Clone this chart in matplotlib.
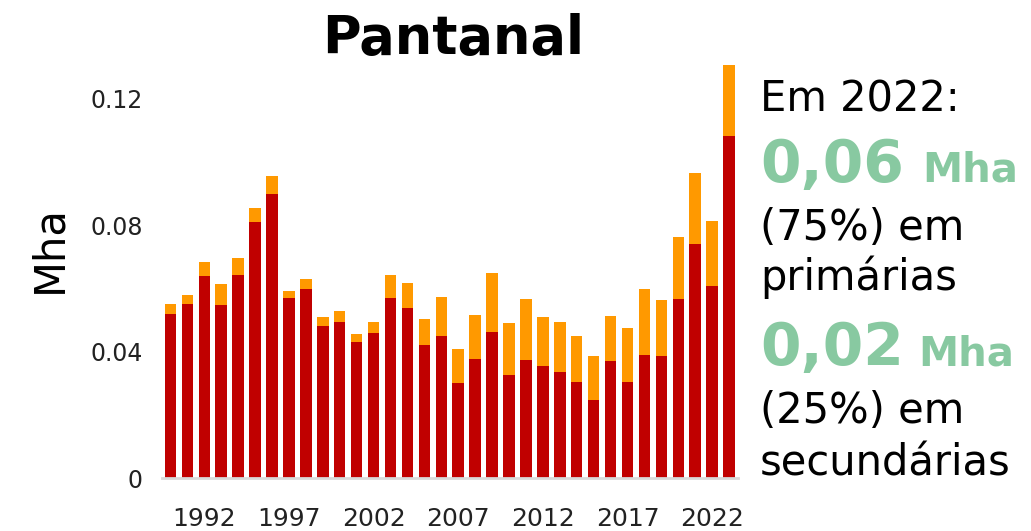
import matplotlib
matplotlib.use('Agg')
import matplotlib.pyplot as plt
import numpy as np

# --- data (Mha) ---
years = list(range(1990, 2024))
primarias = [0.0520, 0.0550, 0.0639, 0.0547, 0.0643, 0.0808, 0.0897, 0.0569, 0.0597, 0.0481,
             0.0493, 0.0431, 0.0457, 0.0569, 0.0539, 0.0420, 0.0450, 0.0300, 0.0377, 0.0462,
             0.0327, 0.0373, 0.0354, 0.0334, 0.0304, 0.0246, 0.0369, 0.0304, 0.0389, 0.0385,
             0.0566, 0.0740, 0.0608, 0.1082]
totais = [0.0550, 0.0578, 0.0682, 0.0612, 0.0697, 0.0855, 0.0954, 0.0592, 0.0630, 0.0508,
          0.0527, 0.0454, 0.0493, 0.0643, 0.0616, 0.0504, 0.0573, 0.0408, 0.0515, 0.0647,
          0.0489, 0.0566, 0.0508, 0.0493, 0.0450, 0.0385, 0.0512, 0.0473, 0.0598, 0.0562,
          0.0762, 0.0963, 0.0813, 0.1306]
secundarias = [t - p for t, p in zip(totais, primarias)]

tick_years = [1992, 1997, 2002, 2007, 2012, 2017, 2022]
y_ticks = [0, 0.04, 0.08, 0.12]
y_tick_labels = ['0', '0.04', '0.08', '0.12']

red = '#C00000'
orange = '#FF9900'
green = '#88C9A1'

W, H = 1031, 531
fig = plt.figure(figsize=(W / 100, H / 100), dpi=100)
ax = fig.add_axes([162 / W, 1 - 478 / H, 575.5 / W, 442.7 / H])

x = np.arange(len(years))
ax.bar(x, primarias, width=0.68, color=red, zorder=2)
ax.bar(x, secundarias, width=0.68, bottom=primarias, color=orange, zorder=2)

ax.set_xlim(-0.5, len(years) - 0.5)
ax.set_ylim(0, 0.14)
ax.set_xticks([years.index(y) for y in tick_years])
ax.set_xticklabels([str(y) for y in tick_years], fontsize=18, color='#222222')
ax.set_yticks(y_ticks)
ax.set_yticklabels(y_tick_labels, fontsize=17, color='#222222')
ax.tick_params(axis='x', length=0, pad=21)
ax.tick_params(axis='y', length=0, pad=14)
for s in ['top', 'right', 'left']:
    ax.spines[s].set_visible(False)
ax.spines['bottom'].set_color('#D9D9D9')
ax.spines['bottom'].set_linewidth(2)

# title and y label
fig.text(453 / W, 1 - 54 / H, 'Pantanal', fontsize=38, fontweight='bold',
         ha='center', va='baseline')
fig.text(49 / W, 1 - 249 / H, 'Mha', fontsize=30, rotation=90, ha='center', va='center')

# side annotation
xl = 760 / W
fig.text(xl, 1 - 112 / H, 'Em 2022:', fontsize=30, va='baseline')
t = fig.text(xl, 1 - 182 / H, '0,06', fontsize=42, fontweight='bold', color=green, va='baseline')
fig.text(922 / W, 1 - 182 / H, 'Mha', fontsize=29, fontweight='bold', color=green, va='baseline')
fig.text(xl, 1 - 240 / H, '(75%) em', fontsize=30, va='baseline')
fig.text(xl, 1 - 290 / H, 'primárias', fontsize=30, va='baseline')
fig.text(xl, 1 - 365 / H, '0,02', fontsize=42, fontweight='bold', color=green, va='baseline')
fig.text(918 / W, 1 - 365 / H, 'Mha', fontsize=29, fontweight='bold', color=green, va='baseline')
fig.text(xl, 1 - 423 / H, '(25%) em', fontsize=30, va='baseline')
fig.text(xl, 1 - 476 / H, 'secundárias', fontsize=30, va='baseline')

fig.savefig('out.png', dpi=100)
